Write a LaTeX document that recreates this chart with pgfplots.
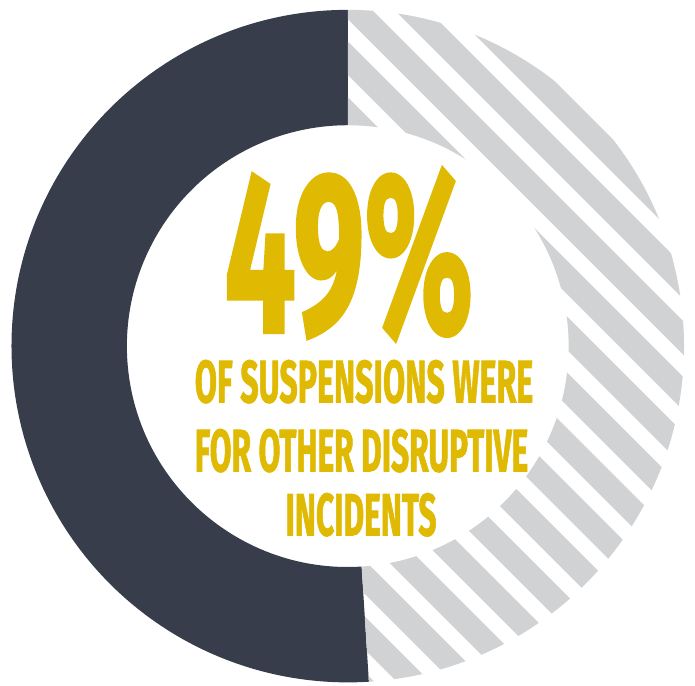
\documentclass[border=0pt]{standalone}
\usepackage{pgfplots}
\pgfplotsset{compat=1.18}
\usepackage{pgfplotstable}
\usepackage{graphicx}
\usepackage{fontspec}
\setmainfont{Fira Sans}
\newfontfamily\bebas{Fira Sans}[BoldFeatures={FakeBold=1.6}]
\definecolor{darkc}{HTML}{373D4A}
\definecolor{grayc}{HTML}{D1D2D4}
\definecolor{goldc}{HTML}{DFB902}
\pgfplotstableread{
part value
disruptive 49
other 51
}\shares
\newcommand\gtext[3]{\raisebox{0pt}[\height][0pt]{\resizebox{#1}{#2}{\bebas\bfseries #3}}}
\begin{document}
\pgfplotstablegetelem{0}{value}\of\shares \let\valHatch\pgfplotsretval
\pgfplotstablegetelem{1}{value}\of\shares \let\valDark\pgfplotsretval
\pgfmathsetmacro\angEnd{90+\valDark*3.6}
\begin{tikzpicture}
\begin{axis}[
  hide axis, scale only axis, width=689pt, height=695pt,
  xmin=0, xmax=689, ymin=0, ymax=695, clip=false]
\addplot[draw=none, forget plot] coordinates {(0,0) (689,695)};
% dark segment
\fill[darkc] ([shift={(90:341pt)}]axis cs:350,344) arc[start angle=90, end angle=\angEnd, radius=341pt]
  -- ([shift={(\angEnd:224pt)}]axis cs:350,344) arc[start angle=\angEnd, end angle=90, radius=224pt] -- cycle;
% hatched segment
\begin{scope}
\clip ([shift={(\angEnd:341pt)}]axis cs:350,344) arc[start angle=\angEnd, end angle=450, radius=341pt]
  -- ([shift={(450:224pt)}]axis cs:350,344) arc[start angle=450, end angle=\angEnd, radius=224pt] -- cycle;
\pgfplotsinvokeforeach{-4,...,15}{
  \draw[grayc, line width=24pt]
    (axis cs:{(697.2-40*(#1))*0.7071 - 707.1}, {(697.2-40*(#1))*0.7071 + 707.1})
 -- (axis cs:{(697.2-40*(#1))*0.7071 + 707.1}, {(697.2-40*(#1))*0.7071 - 707.1});
}
\end{scope}
% texts
\node[inner sep=0, anchor=base, text=goldc] at (axis cs:351,358) {\gtext{252pt}{167pt}{\valHatch\%}};
\node[inner sep=0, anchor=base, text=goldc] at (axis cs:366.5,287) {\gtext{343pt}{43pt}{OF SUSPENSIONS WERE}};
\node[inner sep=0, anchor=base, text=goldc] at (axis cs:364,217) {\gtext{338pt}{43pt}{FOR OTHER DISRUPTIVE}};
\node[inner sep=0, anchor=base, text=goldc] at (axis cs:363.5,152) {\gtext{153pt}{43pt}{INCIDENTS}};
\end{axis}
\end{tikzpicture}
\end{document}
